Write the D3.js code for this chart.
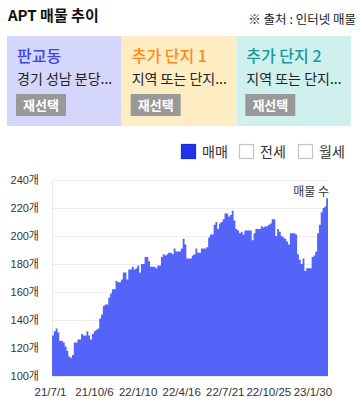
<!DOCTYPE html>
<html><head><meta charset="utf-8">
<script src="https://cdn.jsdelivr.net/npm/d3@7"></script>
<style>
html,body{margin:0;padding:0;background:#fff;}
svg{display:block;font-family:"Noto Sans CJK KR","Noto Sans",sans-serif;}
</style></head>
<body><svg id="c" width="360" height="406"></svg>
<script>
const title = "APT 매물 추이";
const source = "※ 출처 : 인터넷 매물";
const panelTitles = ["판교동", "추가 단지 1", "추가 단지 2"];
const panelSubs = ["경기 성남 분당...", "지역 또는 단지...", "지역 또는 단지..."];
const panelBg = ["#d5d6fb", "#feedc3", "#d0f0ee"];
const panelFg = ["#3c46e6", "#ff8a1c", "#15999a"];
const legendLabels = ["매매", "전세", "월세"];
const legendOn = [true, false, false];
const startDate = "2021-07-01";
const stepDays = 4;
const values = [129,132,134,131,125,125,124,121,118,114,113,115,124,124,126,126,130,129,129,132,
129,126,130,132,133,134,141,144,150,151,151,156,159,162,162,168,167,167,169,174,
174,169,176,176,178,176,177,179,174,180,180,185,185,182,178,178,178,177,179,179,
185,187,186,187,188,188,187,191,189,189,189,191,198,194,184,184,184,186,187,191,
188,188,191,191,191,192,199,201,201,208,210,205,209,210,212,216,216,214,215,218,
211,205,204,202,203,201,204,204,204,204,197,202,205,205,205,207,206,207,207,208,
209,212,212,200,205,203,200,199,198,196,194,202,202,202,201,187,183,180,184,175,
177,177,177,185,186,189,202,208,217,220,221,227];
const yTicks = [100,120,140,160,180,200,220,240];
const xTickLabels = ["21/7/1","21/10/6","22/1/10","22/4/16","22/7/21","22/10/25","23/1/30"];
const seriesLabel = "매물 수";

const latin = '"Liberation Sans","Noto Sans CJK KR",sans-serif';
const svg = d3.select("#c");
svg.append("text").attr("x",8).attr("y",21).attr("font-size",15).attr("font-weight","bold").attr("fill","#111").text(title);
svg.append("text").attr("x",356).attr("y",24).attr("text-anchor","end").attr("font-size",12.5).attr("fill","#222").text(source);

// panels
const px = d3.scaleBand().domain(d3.range(3)).range([7,351]);
const pg = svg.selectAll("g.panel").data(panelTitles).join("g").attr("class","panel")
  .attr("transform",(d,i)=>`translate(${px(i)},36)`);
pg.append("rect").attr("width",px.bandwidth()).attr("height",90).attr("fill",(d,i)=>panelBg[i]);
pg.append("text").attr("x",10).attr("y",26).attr("font-size",16).attr("font-weight",500).attr("fill",(d,i)=>panelFg[i]).text(d=>d);
pg.append("text").attr("x",10).attr("y",48).attr("font-size",14).attr("fill","#222").text((d,i)=>panelSubs[i]);
pg.append("rect").attr("x",9).attr("y",58).attr("width",50).attr("height",22).attr("fill","#999");
pg.append("text").attr("x",34).attr("y",74).attr("text-anchor","middle").attr("font-size",13).attr("font-weight","bold").attr("fill","#fff").text("재선택");

// legend
const lx = [181,239,298];
const lg = svg.selectAll("g.leg").data(legendLabels).join("g").attr("class","leg")
  .attr("transform",(d,i)=>`translate(${lx[i]},144)`);
lg.append("rect").attr("x",0.5).attr("y",0.5).attr("width",14).attr("height",14)
  .attr("fill",(d,i)=>legendOn[i]?"#2233ee":"#fff")
  .attr("stroke",(d,i)=>legendOn[i]?"#1a2ad8":"#c4c4cc").attr("stroke-width",1.2);
lg.append("text").attr("x",21).attr("y",13).attr("font-size",14).attr("fill","#333").text(d=>d);

// chart
const L=52,R=328,T=180,B=376;
const t0 = new Date(startDate+"T00:00:00");
const dayMs = 86400000;
const data = values.map((v,i)=>({date:new Date(t0.getTime()+i*stepDays*dayMs), v}));
const endDate = new Date(t0.getTime()+values.length*stepDays*dayMs);
const x = d3.scaleTime().domain([t0,endDate]).range([L,R]);
const y = d3.scaleLinear().domain([100,240]).range([B,T]);

svg.append("g").selectAll("line").data(yTicks).join("line")
  .attr("x1",L).attr("x2",R).attr("y1",d=>Math.round(y(d))+0.5).attr("y2",d=>Math.round(y(d))+0.5)
  .attr("stroke","#ececec");
svg.append("line").attr("x1",L+0.5).attr("x2",L+0.5).attr("y1",T).attr("y2",B).attr("stroke","#ececec");

const areaData = data.concat([{date:endDate, v:values[values.length-1]}]);
const area = d3.area().curve(d3.curveStepAfter).x(d=>x(d.date)).y0(y(100)).y1(d=>y(d.v));
svg.append("path").datum(areaData).attr("d",area).attr("fill","#5564f8");

const yAxis = d3.axisLeft(y).tickValues(yTicks).tickSize(0).tickPadding(0).tickFormat(d=>d+"개");
const ya = svg.append("g").attr("transform",`translate(${L-13},0)`).call(yAxis);
ya.select(".domain").remove();
ya.selectAll("text").attr("font-size",11).attr("fill","#333").attr("font-family",latin);

const parse = d3.timeParse("%y/%m/%d");
const xDates = xTickLabels.map(s=>parse(s));
const xAxis = d3.axisBottom(x).tickValues(xDates).tickSize(0).tickPadding(0).tickFormat((d,i)=>xTickLabels[i]);
const xa = svg.append("g").attr("transform",`translate(-2,${B+12})`).call(xAxis);
xa.select(".domain").remove();
xa.selectAll("text").attr("font-size",11.5).attr("fill","#333").attr("font-family",latin);

svg.append("text").attr("x",R+1).attr("y",196).attr("text-anchor","end").attr("font-size",12).attr("fill","#333").text(seriesLabel);
</script></body></html>
